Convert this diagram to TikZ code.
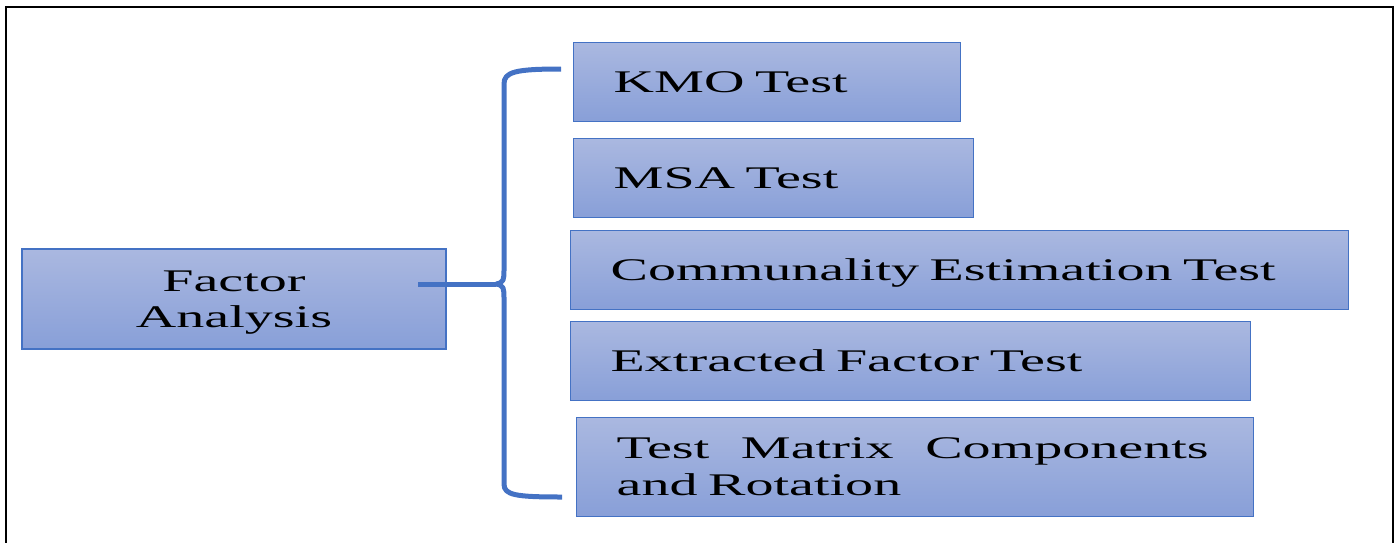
\documentclass[tikz,border=0pt]{standalone}
\usepackage{fontspec}
\setmainfont{Liberation Serif}[FakeStretch=1.78]
\usepackage{xcolor}
\usetikzlibrary{positioning}
\definecolor{boxtop}{RGB}{170,184,224}
\definecolor{boxbot}{RGB}{136,159,216}
\definecolor{boxline}{RGB}{68,114,196}

\begin{document}
\begin{tikzpicture}[x=0.5pt, y=-0.5pt]
\useasboundingbox (0,0) rectangle (1399,542);
\draw[line width=1pt] (6,545) -- (6,7) -- (1393,7) -- (1393,545);

\begin{scope}[every node/.style={draw=boxline, line width=0.7pt, top color=boxtop, bottom color=boxbot,
              text=black, inner ysep=0pt, font=\fontsize{15.75pt}{18.5pt}\selectfont}]
    \node[align=center, minimum width=212pt, minimum height=50pt, text depth=0pt] (fa) at (234,299) {Factor\\[-0.5pt]Analysis};
\end{scope}

\begin{scope}[every node/.style={anchor=north west, draw=boxline, line width=0.7pt, top color=boxtop, bottom color=boxbot,
              text=black, inner xsep=20pt, inner ysep=0pt, align=left, font=\fontsize{15.75pt}{18.5pt}\selectfont}]
    \node[text width=153.5pt, minimum height=39.5pt, text height=10.3pt, text depth=0pt] (kmo) at (573,42) {KMO Test};
    \node[text width=160pt, minimum height=39.5pt, text height=10.3pt, text depth=0pt] (msa) at (573,138) {MSA Test};
    \node[text width=349pt, minimum height=39.5pt, text height=10.3pt, text depth=0pt] (com) at (570,230) {Communality Estimation Test};
    \node[text width=300pt, minimum height=39.5pt, text height=10.3pt, text depth=0pt] (ext) at (570,321) {Extracted Factor Test};
    \node[text width=298.5pt, minimum height=49.5pt] (rot) at (576,417) {\makebox[296pt]{Test\hfill Matrix\hfill Components}\\and Rotation};
\end{scope}

\begin{scope}[every path/.style={draw=boxline, line width=2.5pt, line join=round}]
    \coordinate (fa-in) at (418,284);
    \coordinate (cusp) at (496,284);
    \coordinate (up) at (561,69);
    \coordinate (dn) at (562,497);
    \path (fa-in) -- (cusp);
    \path (cusp) .. controls (504,283) and (504,279) .. (504,270) -- (504,84) .. controls (504,72) and (515,69) .. (up);
    \path (cusp) .. controls (504,285) and (504,289) .. (504,298) -- (504,484) .. controls (504,495) and (515,497) .. (dn);
\end{scope}

\end{tikzpicture}
\end{document}
